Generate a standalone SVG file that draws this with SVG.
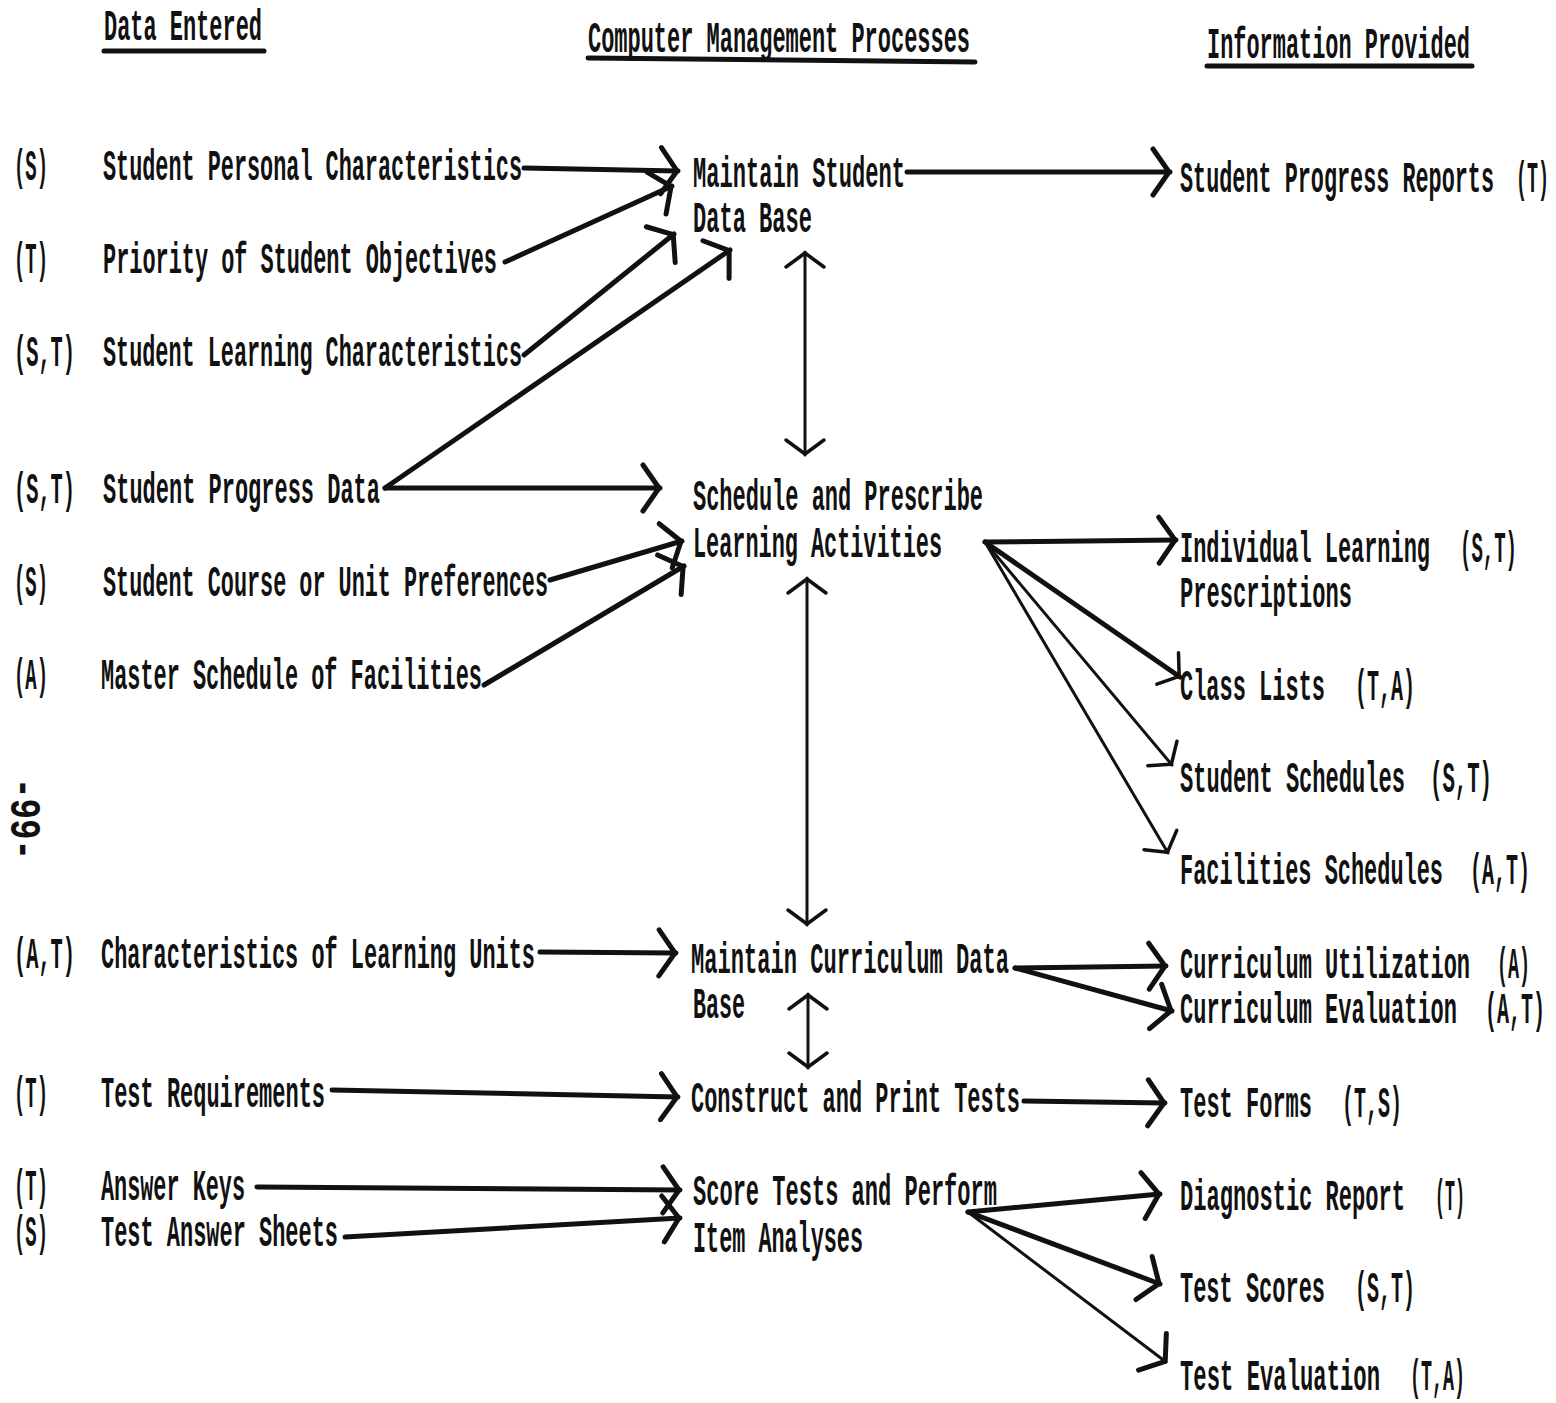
<svg xmlns="http://www.w3.org/2000/svg" width="1556" height="1403" viewBox="0 0 1556 1403">
<style>
.t{font-family:"Liberation Mono","DejaVu Sans Mono",monospace;font-size:22px;font-weight:bold;fill:#111}
.k{stroke:#111;fill:none;stroke-linecap:round}
.w5{stroke-width:5}
.w3{stroke-width:3}
</style>
<defs>
<marker id="ah" markerUnits="userSpaceOnUse" markerWidth="44" markerHeight="60" refX="2" refY="0" viewBox="-30 -30 44 60" orient="auto-start-reverse" overflow="visible">
<path d="M-15,-23 L1,0 L-15,23" fill="none" stroke="#111" stroke-width="5" stroke-linecap="round" stroke-linejoin="round"/>
</marker>
<marker id="ahs" markerUnits="userSpaceOnUse" markerWidth="40" markerHeight="50" refX="2" refY="0" viewBox="-26 -25 40 50" orient="auto-start-reverse" overflow="visible">
<path d="M-13,-19 L1,0 L-13,19" fill="none" stroke="#111" stroke-width="3.5" stroke-linecap="round" stroke-linejoin="round"/>
</marker>
</defs>
<rect width="1556" height="1403" fill="#fff"/>

<g id="headers">
<text class="t" transform="translate(104,40) scale(1,2)" textLength="158" lengthAdjust="spacingAndGlyphs">Data Entered</text>
<line class="k w5" x1="104" y1="51" x2="264" y2="51"/>
<text class="t" transform="translate(588,52) scale(1,2)" textLength="382" lengthAdjust="spacingAndGlyphs">Computer Management Processes</text>
<line class="k w5" x1="588" y1="58" x2="975" y2="62"/>
<text class="t" transform="translate(1207,58) scale(1,2)" textLength="263" lengthAdjust="spacingAndGlyphs">Information Provided</text>
<line class="k w5" x1="1207" y1="66" x2="1472" y2="66"/>
</g>

<g id="page-number">
<text class="t" transform="translate(11,778) rotate(90) scale(1,2)" textLength="82" lengthAdjust="spacingAndGlyphs">-99-</text>
</g>

<g id="in-personal"><text class="t" transform="translate(14,180) scale(1,2)" textLength="34" lengthAdjust="spacingAndGlyphs">(S)</text><text class="t" transform="translate(103,180) scale(1,2)" textLength="419" lengthAdjust="spacingAndGlyphs">Student Personal Characteristics</text></g>
<g id="in-priority"><text class="t" transform="translate(14,273) scale(1,2)" textLength="34" lengthAdjust="spacingAndGlyphs">(T)</text><text class="t" transform="translate(103,273) scale(1,2)" textLength="394" lengthAdjust="spacingAndGlyphs">Priority of Student Objectives</text></g>
<g id="in-learning"><text class="t" transform="translate(14,366) scale(1,2)" textLength="61" lengthAdjust="spacingAndGlyphs">(S,T)</text><text class="t" transform="translate(103,366) scale(1,2)" textLength="419" lengthAdjust="spacingAndGlyphs">Student Learning Characteristics</text></g>
<g id="in-progress"><text class="t" transform="translate(14,503) scale(1,2)" textLength="61" lengthAdjust="spacingAndGlyphs">(S,T)</text><text class="t" transform="translate(103,503) scale(1,2)" textLength="277" lengthAdjust="spacingAndGlyphs">Student Progress Data</text></g>
<g id="in-preferences"><text class="t" transform="translate(14,596) scale(1,2)" textLength="34" lengthAdjust="spacingAndGlyphs">(S)</text><text class="t" transform="translate(103,596) scale(1,2)" textLength="445" lengthAdjust="spacingAndGlyphs">Student Course or Unit Preferences</text></g>
<g id="in-master"><text class="t" transform="translate(14,689) scale(1,2)" textLength="34" lengthAdjust="spacingAndGlyphs">(A)</text><text class="t" transform="translate(101,689) scale(1,2)" textLength="381" lengthAdjust="spacingAndGlyphs">Master Schedule of Facilities</text></g>
<g id="in-units"><text class="t" transform="translate(14,968) scale(1,2)" textLength="61" lengthAdjust="spacingAndGlyphs">(A,T)</text><text class="t" transform="translate(101,968) scale(1,2)" textLength="434" lengthAdjust="spacingAndGlyphs">Characteristics of Learning Units</text></g>
<g id="in-testreq"><text class="t" transform="translate(14,1107) scale(1,2)" textLength="34" lengthAdjust="spacingAndGlyphs">(T)</text><text class="t" transform="translate(101,1107) scale(1,2)" textLength="224" lengthAdjust="spacingAndGlyphs">Test Requirements</text></g>
<g id="in-keys"><text class="t" transform="translate(14,1200) scale(1,2)" textLength="34" lengthAdjust="spacingAndGlyphs">(T)</text><text class="t" transform="translate(101,1200) scale(1,2)" textLength="144" lengthAdjust="spacingAndGlyphs">Answer Keys</text></g>
<g id="in-sheets"><text class="t" transform="translate(14,1246) scale(1,2)" textLength="34" lengthAdjust="spacingAndGlyphs">(S)</text><text class="t" transform="translate(101,1246) scale(1,2)" textLength="237" lengthAdjust="spacingAndGlyphs">Test Answer Sheets</text></g>

<g id="p-student-db"><text class="t" transform="translate(693,187) scale(1,2)" textLength="212" lengthAdjust="spacingAndGlyphs">Maintain Student</text><text class="t" transform="translate(693,232) scale(1,2)" textLength="119" lengthAdjust="spacingAndGlyphs">Data Base</text></g>
<g id="p-schedule"><text class="t" transform="translate(693,510) scale(1,2)" textLength="290" lengthAdjust="spacingAndGlyphs">Schedule and Prescribe</text><text class="t" transform="translate(693,557) scale(1,2)" textLength="249" lengthAdjust="spacingAndGlyphs">Learning Activities</text></g>
<g id="p-curriculum-db"><text class="t" transform="translate(691,973) scale(1,2)" textLength="318" lengthAdjust="spacingAndGlyphs">Maintain Curriculum Data</text><text class="t" transform="translate(693,1018) scale(1,2)" textLength="52" lengthAdjust="spacingAndGlyphs">Base</text></g>
<g id="p-construct"><text class="t" transform="translate(691,1112) scale(1,2)" textLength="329" lengthAdjust="spacingAndGlyphs">Construct and Print Tests</text></g>
<g id="p-score"><text class="t" transform="translate(693,1205) scale(1,2)" textLength="304" lengthAdjust="spacingAndGlyphs">Score Tests and Perform</text><text class="t" transform="translate(693,1252) scale(1,2)" textLength="170" lengthAdjust="spacingAndGlyphs">Item Analyses</text></g>

<g id="o-progress-reports"><text class="t" transform="translate(1180,192) scale(1,2)" textLength="314" lengthAdjust="spacingAndGlyphs">Student Progress Reports</text><text class="t" transform="translate(1516,192) scale(1,2)" textLength="33" lengthAdjust="spacingAndGlyphs">(T)</text></g>
<g id="o-prescriptions"><text class="t" transform="translate(1180,562) scale(1,2)" textLength="250" lengthAdjust="spacingAndGlyphs">Individual Learning</text><text class="t" transform="translate(1460,562) scale(1,2)" textLength="57" lengthAdjust="spacingAndGlyphs">(S,T)</text><text class="t" transform="translate(1180,607) scale(1,2)" textLength="172" lengthAdjust="spacingAndGlyphs">Prescriptions</text></g>
<g id="o-class-lists"><text class="t" transform="translate(1180,700) scale(1,2)" textLength="145" lengthAdjust="spacingAndGlyphs">Class Lists</text><text class="t" transform="translate(1355,700) scale(1,2)" textLength="60" lengthAdjust="spacingAndGlyphs">(T,A)</text></g>
<g id="o-student-schedules"><text class="t" transform="translate(1180,792) scale(1,2)" textLength="225" lengthAdjust="spacingAndGlyphs">Student Schedules</text><text class="t" transform="translate(1430,792) scale(1,2)" textLength="62" lengthAdjust="spacingAndGlyphs">(S,T)</text></g>
<g id="o-facilities-schedules"><text class="t" transform="translate(1180,884) scale(1,2)" textLength="263" lengthAdjust="spacingAndGlyphs">Facilities Schedules</text><text class="t" transform="translate(1470,884) scale(1,2)" textLength="60" lengthAdjust="spacingAndGlyphs">(A,T)</text></g>
<g id="o-utilization"><text class="t" transform="translate(1180,978) scale(1,2)" textLength="290" lengthAdjust="spacingAndGlyphs">Curriculum Utilization</text><text class="t" transform="translate(1497,978) scale(1,2)" textLength="33" lengthAdjust="spacingAndGlyphs">(A)</text></g>
<g id="o-evaluation"><text class="t" transform="translate(1180,1023) scale(1,2)" textLength="277" lengthAdjust="spacingAndGlyphs">Curriculum Evaluation</text><text class="t" transform="translate(1485,1023) scale(1,2)" textLength="60" lengthAdjust="spacingAndGlyphs">(A,T)</text></g>
<g id="o-test-forms"><text class="t" transform="translate(1180,1117) scale(1,2)" textLength="132" lengthAdjust="spacingAndGlyphs">Test Forms</text><text class="t" transform="translate(1342,1117) scale(1,2)" textLength="60" lengthAdjust="spacingAndGlyphs">(T,S)</text></g>
<g id="o-diagnostic"><text class="t" transform="translate(1180,1210) scale(1,2)" textLength="225" lengthAdjust="spacingAndGlyphs">Diagnostic Report</text><text class="t" transform="translate(1435,1210) scale(1,2)" textLength="30" lengthAdjust="spacingAndGlyphs">(T)</text></g>
<g id="o-test-scores"><text class="t" transform="translate(1180,1302) scale(1,2)" textLength="145" lengthAdjust="spacingAndGlyphs">Test Scores</text><text class="t" transform="translate(1355,1302) scale(1,2)" textLength="60" lengthAdjust="spacingAndGlyphs">(S,T)</text></g>
<g id="o-test-evaluation"><text class="t" transform="translate(1180,1390) scale(1,2)" textLength="200" lengthAdjust="spacingAndGlyphs">Test Evaluation</text><text class="t" transform="translate(1410,1390) scale(1,2)" textLength="55" lengthAdjust="spacingAndGlyphs">(T,A)</text></g>

<g id="connectors">
<line class="k w5" x1="524" y1="168" x2="678" y2="171" marker-end="url(#ah)"/>
<line class="k w5" x1="505" y1="262" x2="672" y2="186" marker-end="url(#ah)"/>
<line class="k w5" x1="524" y1="355" x2="674" y2="234" marker-end="url(#ah)"/>
<line class="k w5" x1="385" y1="488" x2="730" y2="250" marker-end="url(#ah)"/>
<line class="k w5" x1="385" y1="488" x2="660" y2="488" marker-end="url(#ah)"/>
<line class="k w5" x1="907" y1="172" x2="1170" y2="172" marker-end="url(#ah)"/>
<line class="k w3" x1="805" y1="252" x2="805" y2="455" marker-start="url(#ahs)" marker-end="url(#ahs)"/>
<line class="k w5" x1="550" y1="580" x2="682" y2="541" marker-end="url(#ah)"/>
<line class="k w5" x1="484" y1="685" x2="684" y2="566" marker-end="url(#ah)"/>
<line class="k w5" x1="985" y1="542" x2="1176" y2="540" marker-end="url(#ah)"/>
<line class="k w5" x1="985" y1="542" x2="1180" y2="677" marker-end="url(#ahs)"/>
<line class="k w3" x1="985" y1="542" x2="1172" y2="765" marker-end="url(#ahs)"/>
<line class="k w3" x1="985" y1="542" x2="1168" y2="853" marker-end="url(#ahs)"/>
<line class="k w3" x1="807" y1="578" x2="807" y2="925" marker-start="url(#ahs)" marker-end="url(#ahs)"/>
<line class="k w5" x1="540" y1="952" x2="676" y2="953" marker-end="url(#ah)"/>
<line class="k w5" x1="1015" y1="968" x2="1166" y2="966" marker-end="url(#ah)"/>
<line class="k w5" x1="1015" y1="968" x2="1172" y2="1011" marker-end="url(#ah)"/>
<line class="k w3" x1="808" y1="994" x2="808" y2="1068" marker-start="url(#ahs)" marker-end="url(#ahs)"/>
<line class="k w5" x1="332" y1="1090" x2="678" y2="1097" marker-end="url(#ah)"/>
<line class="k w5" x1="1024" y1="1101" x2="1165" y2="1103" marker-end="url(#ah)"/>
<line class="k w5" x1="257" y1="1187" x2="680" y2="1190" marker-end="url(#ah)"/>
<line class="k w5" x1="345" y1="1237" x2="680" y2="1218" marker-end="url(#ah)"/>
<line class="k w5" x1="968" y1="1212" x2="1160" y2="1194" marker-end="url(#ah)"/>
<line class="k w5" x1="968" y1="1212" x2="1160" y2="1284" marker-end="url(#ah)"/>
<line class="k w3" x1="968" y1="1212" x2="1166" y2="1362" marker-end="url(#ah)"/>
</g>
</svg>
